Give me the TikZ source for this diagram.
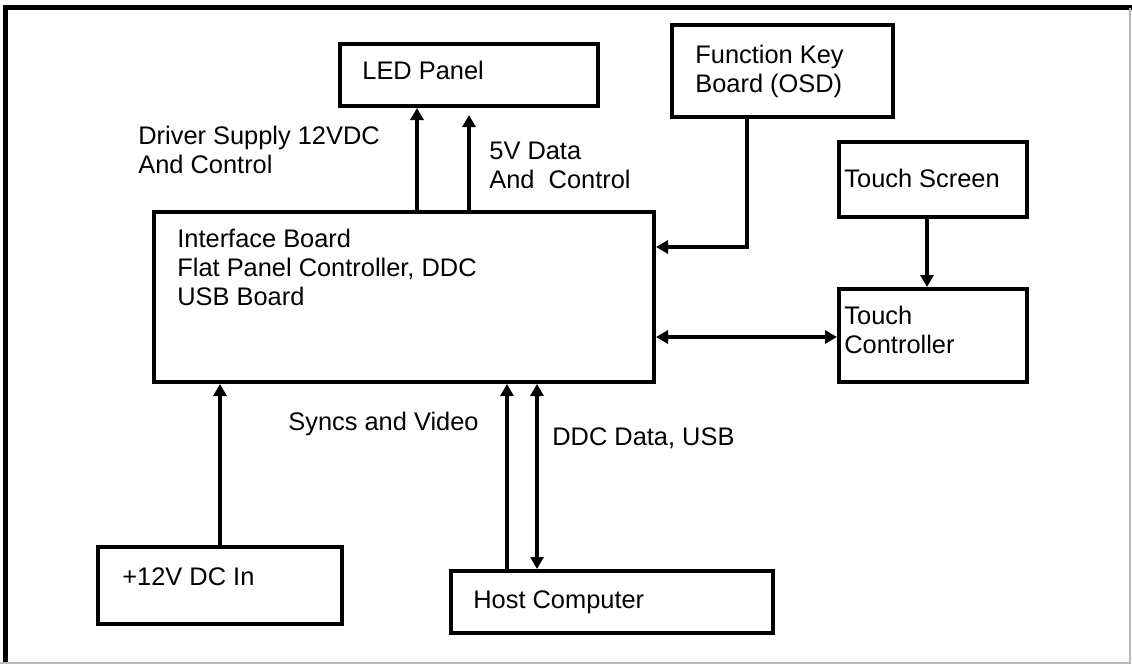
\documentclass[tikz,border=0pt]{standalone}
\usepackage{fontspec}
\setmainfont{Liberation Sans}
\usetikzlibrary{arrows.meta}

\begin{document}
\begin{tikzpicture}[
  x=0.5pt,
  y=-0.5pt,
  line join=miter,
  block/.style={
    draw=black,
    line width=2pt,
    rectangle,
    inner sep=0pt
  },
  link/.style={
    draw=black,
    line width=1.6pt,
    -{Triangle[length=6pt,width=6.5pt]}
  },
  duplex/.style={
    link,
    {Triangle[length=6pt,width=6.5pt]}-{Triangle[length=6pt,width=6.5pt]}
  },
  txt/.style={
    font=\fontsize{12.7}{14.5}\selectfont,
    inner sep=0pt,
    anchor=base west,
    align=left
  }
]

  \path[use as bounding box]
    (0,0) rectangle (1132,664);

  % frame
  \draw[line width=2.5pt]
    (5.5,664) -- (5.5,7.5) -- (1132,7.5);
  \draw[gray!55, line width=1pt]
    (0,663) -- (1130,663) -- (1130,7.5);

  % blocks
  \node[block, minimum width=129pt, minimum height=31pt]
    (led) at (469,75) {};
  \node[block, minimum width=110.5pt, minimum height=46pt]
    (fk) at (782.5,71) {};
  \node[block, minimum width=94pt, minimum height=37.5pt]
    (ts) at (933,179.5) {};
  \node[block, minimum width=94pt, minimum height=46.5pt]
    (tc) at (933,335.5) {};
  \node[block, minimum width=250pt, minimum height=85pt]
    (iface) at (404,297) {};
  \node[block, minimum width=122pt, minimum height=38.5pt]
    (dc) at (220,585.5) {};
  \node[block, minimum width=161pt, minimum height=31pt]
    (host) at (612,602) {};

  % texts (base = last line)
  \node[txt] (ledtext) at (362,79) {LED Panel};
  \node[txt] (fktext) at (695,92) {Function Key\\Board (OSD)};
  \node[txt] (tstext) at (844,187) {Touch Screen};
  \node[txt] (tctext) at (844,353) {Touch\\Controller};
  \node[txt] (iftext) at (177,305)
    {Interface Board\\Flat Panel Controller, DDC\\USB Board};
  \node[txt] (dctext) at (122,585) {+12V DC In};
  \node[txt] (hosttext) at (473,608) {Host Computer};
  \node[txt] (drvtext) at (138,173) {Driver Supply 12VDC\\And Control};
  \node[txt] (datatext) at (489,188) {5V Data\\And\ \ Control};
  \node[txt] (synctext) at (288,430) {Syncs and Video};
  \node[txt] (ddctext) at (552,445) {DDC Data, USB};

  % connector positions
  \coordinate (xdrv) at (417,0);
  \coordinate (kbd) at (747,247);
  \coordinate (xts) at (927,0);
  \coordinate (ytc) at (0,337);
  \coordinate (xsync) at (507,0);
  \coordinate (xddc) at (537,0);

  % Interface -> LED Panel
  \draw[link] (iface.north -| xdrv) -- (led.south -| xdrv);
  \draw[link] (iface.north -| led.south) -- ([yshift=-3.5pt]led.south);

  % Function Key -> Interface
  \draw[link] (fk.south -| kbd) |- (iface.east |- kbd);

  % Touch Screen -> Touch Controller
  \draw[link] (ts.south -| xts) -- (tc.north -| xts);

  % Interface <-> Touch Controller
  \draw[duplex] (iface.east |- ytc) -- (tc.west |- ytc);

  % +12V -> Interface
  \draw[link] (dc.north) -- (iface.south -| dc.north);

  % Host -> Interface
  \draw[link] (host.north -| xsync) -- (iface.south -| xsync);
  \draw[duplex] (host.north -| xddc) -- (iface.south -| xddc);

\end{tikzpicture}
\end{document}
